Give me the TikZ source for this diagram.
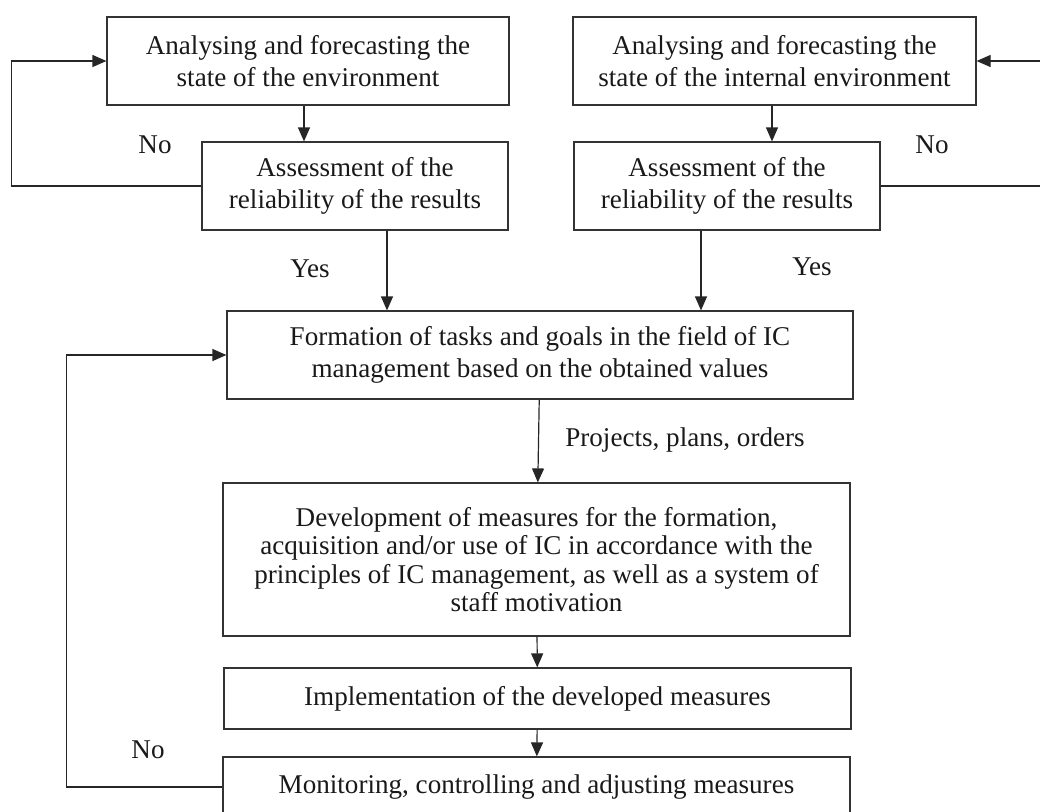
\documentclass[tikz,border=0pt]{standalone}
\usepackage{fontspec}
\setmainfont{Liberation Serif}
\usetikzlibrary{arrows.meta}

\begin{document}
\begin{tikzpicture}[
x=0.5pt, y=-0.5pt,
font=\fontsize{13.55}{15.75}\selectfont,
box/.style={draw=black!80, line width=0.6pt, rectangle, align=center, inner sep=0pt, text=black!90},
arrow/.style={-{Triangle[length=7pt,width=6pt]}, draw=black!85, line width=0.6pt},
lbl/.style={text=black!90}
]
\useasboundingbox (0,0) rectangle (1040,811);
\clip (0,0) rectangle (1040,811);

\node[box, minimum width=201pt, minimum height=44pt] (extan) at (308,61) {Analysing and forecasting the \\ state of the environment};

\node[box, minimum width=201.5pt, minimum height=44pt] (intan) at (774.5,61) {Analysing and forecasting the \\ state of the internal environment};

\node[box, minimum width=153pt, minimum height=44pt] (extrel) at (355,186) {Assessment of the \\ reliability of the results};

\node[box, minimum width=153pt, minimum height=44pt] (intrel) at (727,186) {Assessment of the \\ reliability of the results};

\node[box, minimum width=313pt, minimum height=44pt] (goals) at (540,355) {Formation of tasks and goals in the field of IC \\ management based on the obtained values};

\node[box, minimum width=313.5pt, minimum height=76.5pt, font=\fontsize{13.55}{14.2}\selectfont] (measures) at (536.5,559.5) {Development of measures for the formation, \\ acquisition and/or use of IC in accordance with the \\ principles of IC management, as well as a system of \\ staff motivation};

\node[box, minimum width=313.5pt, minimum height=30.5pt] (impl) at (537.5,698.5) {Implementation of the developed measures};

\node[box, minimum width=313.5pt, minimum height=30pt] (monitor) at (536.5,787) {Monitoring, controlling and adjusting measures};

% labels
\node[lbl] (noext) at (155,145) {No};
\node[lbl] (noint) at (932,145) {No};
\node[lbl] (yesext) at (310,269) {Yes};
\node[lbl] (yesint) at (812,267) {Yes};
\node[lbl] (plans) at (685,440) {Projects, plans, orders};
\node[lbl] (nomon) at (148,750) {No};

\draw[arrow] ([xshift=-2pt]extan.south) -- ([xshift=-2pt]extan.south |- extrel.north);
\draw[arrow] ([xshift=-1.25pt]intan.south) -- ([xshift=-1.25pt]intan.south |- intrel.north);
\draw[arrow] ([xshift=16pt]extrel.south) -- ([xshift=16pt]extrel.south |- goals.north);
\draw[arrow] ([xshift=-13pt]intrel.south) -- ([xshift=-13pt]intrel.south |- goals.north);
\draw[arrow] (goals) -- (measures);
\draw[arrow] (measures) -- (impl);
\draw[arrow] (impl) -- (monitor);

\draw[arrow] (extrel.west) -- ++(-190,0) |- (extan.west);
\draw[arrow] (intrel.east) -- ++(170,0) |- (intan.east);
\draw[arrow] (monitor.west) -- ++(-156,0) |- (goals.west);

\end{tikzpicture}
\end{document}
